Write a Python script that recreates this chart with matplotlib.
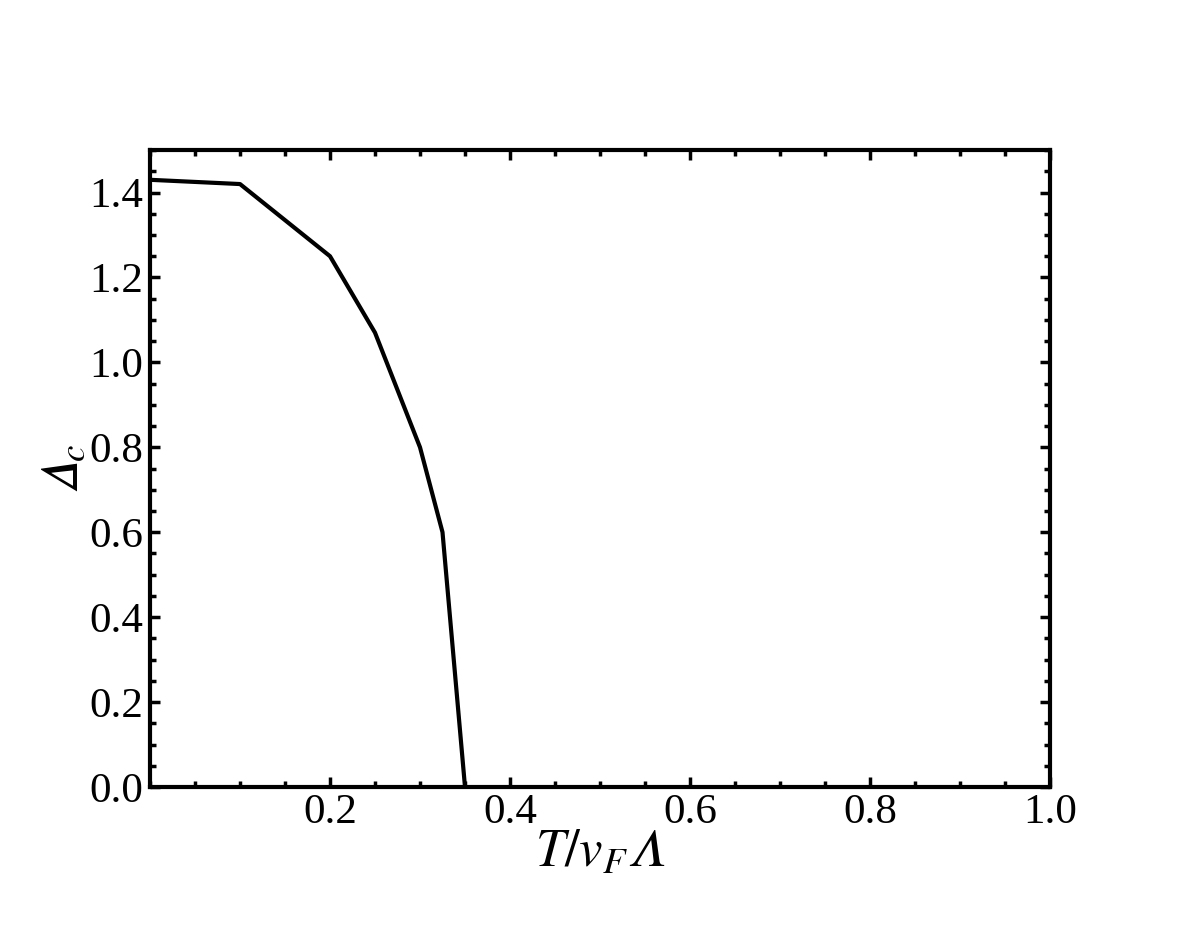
import matplotlib
matplotlib.use('Agg')
import matplotlib.pyplot as plt
from matplotlib.ticker import MultipleLocator, FixedLocator

plt.rcParams['font.family'] = ['Liberation Serif', 'DejaVu Serif']
plt.rcParams['mathtext.fontset'] = 'stix'

# Datos
T = [0.0, 0.1, 0.2, 0.25, 0.3, 0.325, 0.35]
delta_c = [1.43, 1.42, 1.25, 1.07, 0.80, 0.60, 0.0]

xticks = [0.2, 0.4, 0.6, 0.8, 1.0]
yticks = [0.0, 0.2, 0.4, 0.6, 0.8, 1.0, 1.2, 1.4]

fig = plt.figure(figsize=(12, 9.38), dpi=100)
ax = fig.add_axes([0.125, 0.161, 0.75, 0.679])

ax.plot(T, delta_c, color='black', lw=3)

ax.set_xlim(0, 1.0)
ax.set_ylim(0, 1.5)
ax.xaxis.set_major_locator(FixedLocator(xticks))
ax.yaxis.set_major_locator(FixedLocator(yticks))
ax.xaxis.set_minor_locator(MultipleLocator(0.05))
ax.yaxis.set_minor_locator(MultipleLocator(0.05))
ax.set_xticklabels(['%.1f' % v for v in xticks])
ax.set_yticklabels(['%.1f' % v for v in yticks])

ax.tick_params(which='both', direction='in', top=True, right=True, labelsize=31, width=2.5)
ax.tick_params(which='major', length=7, pad=5)
ax.tick_params(which='minor', length=4)
for s in ax.spines.values():
    s.set_linewidth(3)

# letras griegas en cursiva (alfanuméricos matemáticos)
ax.set_xlabel('$T/v_F\U0001D6EC$', fontsize=38, labelpad=-2)
ax.set_ylabel('$\U0001D6E5_c$', fontsize=38, labelpad=0)

fig.savefig('out.png', dpi=100)
